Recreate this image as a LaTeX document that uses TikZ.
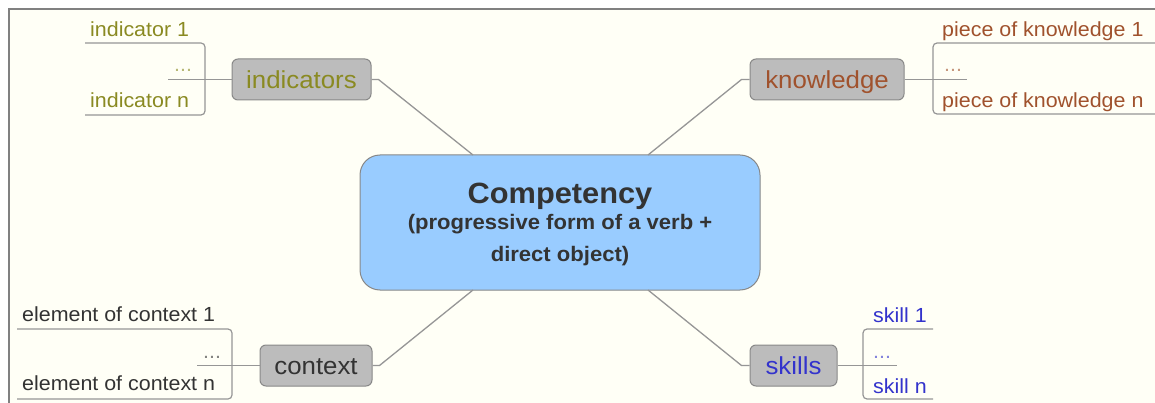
\documentclass[tikz,border=0pt]{standalone}
\usepackage{fontspec}
\setmainfont{Liberation Sans}[FakeStretch=1.05]
\definecolor{cream}{RGB}{255,255,246}
\definecolor{framegray}{RGB}{128,128,128}
\definecolor{olivetxt}{RGB}{138,138,34}
\definecolor{browntxt}{RGB}{160,82,45}
\definecolor{bluetxt}{RGB}{51,51,204}
\definecolor{darktxt}{RGB}{51,51,51}
\definecolor{boxgray}{RGB}{188,188,188}
\definecolor{edgegray}{RGB}{136,136,136}
\definecolor{linegray}{RGB}{150,150,150}
\definecolor{coreblue}{RGB}{153,204,255}
\begin{document}
\begin{tikzpicture}[x=1pt,y=-1pt,
  branch/.style={draw=edgegray, fill=boxgray, rounded corners=6, line width=1,
    inner sep=0, minimum height=41, text height=18, text depth=0,
    font=\fontsize{24.6}{28}\selectfont},
  leaf/.style={inner sep=0, anchor=base west, font=\fontsize{20.4}{22}\selectfont},
  dots/.style={leaf, opacity=0.6},
  coretxt/.style={inner sep=0, anchor=base, text=darktxt},
  conn/.style={draw=linegray, line width=1.3},
  bracket/.style={draw=linegray, line width=1.2, rounded corners=4}]
\useasboundingbox (0,0) rectangle (1155,403);
\fill[white] (0,0) rectangle (1155,403);
\fill[cream] (9,9) rectangle (1155,403);
\draw[framegray, line width=2] (9,403) -- (9,9) -- (1155,9);

% central node
\node[draw=edgegray, fill=coreblue, rounded corners=20, line width=1,
  minimum width=400, minimum height=135, inner sep=0] (core) at (560,222.5) {};
\node[coretxt, font=\bfseries\fontsize{29.3}{30}\selectfont] (t1) at (560,204) {Competency};
\node[coretxt, font=\bfseries\fontsize{21}{22}\selectfont] (t2) at (560,229.5) {(progressive form of a verb +};
\node[coretxt, font=\bfseries\fontsize{21}{22}\selectfont] (t3) at (560,261.5) {direct object)};
\coordinate (cNW) at (473,155);
\coordinate (cNE) at (648,155);
\coordinate (cSW) at (473,290);
\coordinate (cSE) at (648,290);

% branches
\node[branch, text=olivetxt, minimum width=139] (ind) at (301.5,79.5) {indicators};
\node[branch, text=browntxt, minimum width=154] (kno) at (827,79.5) {knowledge};
\node[branch, text=darktxt, minimum width=112] (ctx) at (316,365.5) {context};
\node[branch, text=bluetxt, minimum width=87] (skl) at (793.5,365.5) {skills};

\draw[conn] (ind.east) -- ++(7,0) -- (cNW);
\draw[conn] (kno.west) -- ++(-8,0) -- (cNE);
\draw[conn] (ctx.east) -- ++(7,0) -- (cSW);
\draw[conn] (skl.west) -- ++(-8,0) -- (cSE);

% indicators leaves
\node[leaf, text=olivetxt] (i1) at (90,36.5) {indicator 1};
\node[dots, text=olivetxt] (idots) at (174,72) {...};
\node[leaf, text=olivetxt] (in) at (90,108) {indicator n};
\coordinate (iT) at (85,43);
\coordinate (iB) at (85,115);
\coordinate (iM) at (168,79.5);
\draw[bracket] (iT) -- (205,43) -- (205,115) -- (iB);
\draw[conn] (ind.west) -- (iM);

% knowledge leaves
\node[leaf, text=browntxt] (k1) at (942,36.5) {piece of knowledge 1};
\node[dots, text=browntxt] (kdots) at (944,72) {...};
\node[leaf, text=browntxt] (kn) at (942,108) {piece of knowledge n};
\coordinate (kT) at (1155,43);
\coordinate (kB) at (1155,114);
\coordinate (kM) at (967,79.5);
\draw[bracket] (kT) -- (933,43) -- (933,114) -- (kB);
\draw[conn] (kno.east) -- (kM);

% context leaves
\node[leaf, text=darktxt] (c1) at (22,321.5) {element of context 1};
\node[dots, text=darktxt] (cdots) at (203,358) {...};
\node[leaf, text=darktxt] (cn) at (22,390.5) {element of context n};
\coordinate (cT) at (17,329);
\coordinate (cB) at (17,399);
\coordinate (cM) at (197,365.5);
\draw[bracket] (cT) -- (232,329) -- (232,399) -- (cB);
\draw[conn] (ctx.west) -- (cM);

% skills leaves
\node[leaf, text=bluetxt] (s1) at (873,322) {skill 1};
\node[dots, text=bluetxt] (sdots) at (873,358) {...};
\node[leaf, text=bluetxt] (sn) at (873,393) {skill n};
\coordinate (sT) at (933,329);
\coordinate (sB) at (933,399);
\coordinate (sM) at (897,365.5);
\draw[bracket] (sT) -- (863,329) -- (863,399) -- (sB);
\draw[conn] (skl.east) -- (sM);
\end{tikzpicture}
\end{document}
